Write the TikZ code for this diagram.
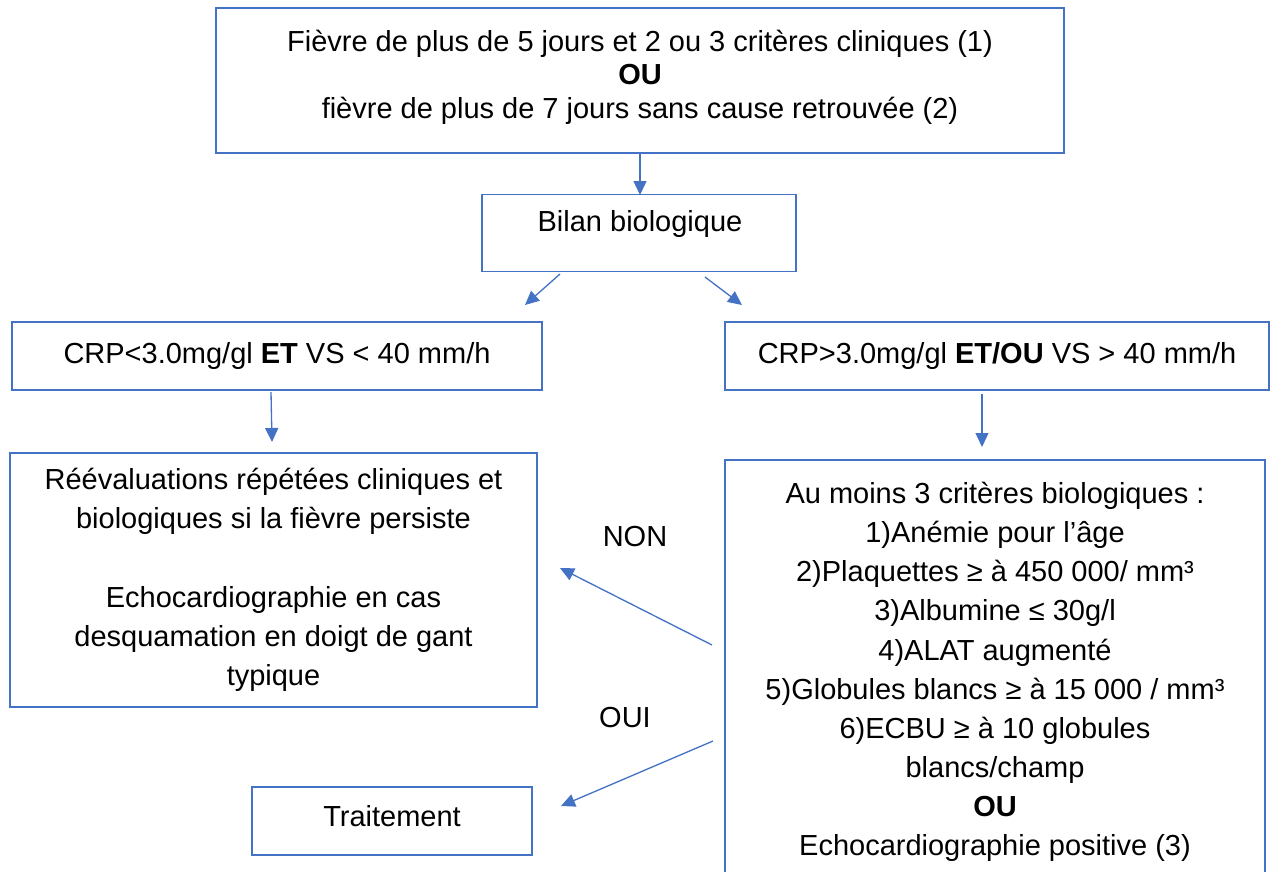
\documentclass[tikz,border=0pt]{standalone}
\usepackage{fontspec}
\setmainfont{Liberation Sans}
\usetikzlibrary{arrows.meta}
\definecolor{wblue}{HTML}{4472C4}
\begin{document}
\begin{tikzpicture}[x=0.02cm,y=-0.02cm,
  box/.style={draw=wblue,line width=1.1pt,rectangle,align=center,inner sep=0pt,
    font=\fontsize{16.5}{19}\selectfont},
  tallbox/.style={box,font=\fontsize{16.5}{22.3}\selectfont},
  conn/.style={draw=wblue,line width=0.75pt,-{Triangle[length=0.28cm,width=0.26cm]}},
  lbl/.style={font=\fontsize{16.5}{19}\selectfont,inner sep=0pt}]
\useasboundingbox (0,0) rectangle (1271,872);
\clip (0,0) rectangle (1271,872);
\node[box,minimum width=16.96cm,minimum height=2.9cm] (top) at (640,80.5) {};
\node[box,draw=none] (toptxt) at (640,77)
  {Fièvre de plus de 5 jours et 2 ou 3 critères cliniques (1)\\\textbf{OU}\\fièvre de plus de 7 jours sans cause retrouvée (2)};
\node[box,minimum width=6.28cm,minimum height=1.54cm] (bilan) at (639,233) {};
\node[lbl] (bilantxt) at (640,224) {Bilan biologique};
\node[box,minimum width=10.6cm,minimum height=1.36cm] (crpl) at (277,356)
  {CRP<3.0mg/gl \textbf{ET} VS < 40 mm/h};
\node[box,minimum width=10.88cm,minimum height=1.36cm] (crpr) at (997,356)
  {CRP>3.0mg/gl \textbf{ET/OU} VS > 40 mm/h};
\node[tallbox,minimum width=10.54cm,minimum height=5.08cm] (reev) at (273.5,580)
  {Réévaluations répétées cliniques et\\biologiques si la fièvre persiste\\[22.3pt]Echocardiographie en cas\\desquamation en doigt de gant\\typique};
\node[box,minimum width=5.6cm,minimum height=1.36cm] (trait) at (392,821) {};
\node[lbl] (traittxt) at (392,816) {Traitement};
\node[tallbox,minimum width=10.8cm,minimum height=8.48cm] (crit) at (995,672)
  {Au moins 3 critères biologiques :\\1)Anémie pour l’âge\\2)Plaquettes ≥ à 450 000/ mm³\\3)Albumine ≤ 30g/l\\4)ALAT augmenté\\5)Globules blancs ≥ à 15 000 / mm³\\6)ECBU ≥ à 10 globules\\blancs/champ\\\textbf{OU}\\Echocardiographie positive (3)};
\node[lbl] (non) at (635,537) {NON};
\node[lbl] (oui) at (625,718) {OUI};
\coordinate (t1) at (640,153);
\coordinate (t1e) at (640,195);
\coordinate (b1) at (560,274);
\coordinate (b1e) at (525,305);
\coordinate (b2) at (705,277);
\coordinate (b2e) at (742,305);
\coordinate (l1) at (271,392);
\coordinate (l1e) at (272,442);
\coordinate (r1) at (982,394);
\coordinate (r1e) at (982,447);
\coordinate (n1) at (712,645);
\coordinate (n1e) at (560,568);
\coordinate (o1) at (713,741);
\coordinate (o1e) at (561,806);
\draw[conn] (t1) -- (t1e);
\draw[conn] (b1) -- (b1e);
\draw[conn] (b2) -- (b2e);
\draw[conn] (l1) -- (l1e);
\draw[conn] (r1) -- (r1e);
\draw[conn] (n1) -- (n1e);
\draw[conn] (o1) -- (o1e);
\end{tikzpicture}
\end{document}
